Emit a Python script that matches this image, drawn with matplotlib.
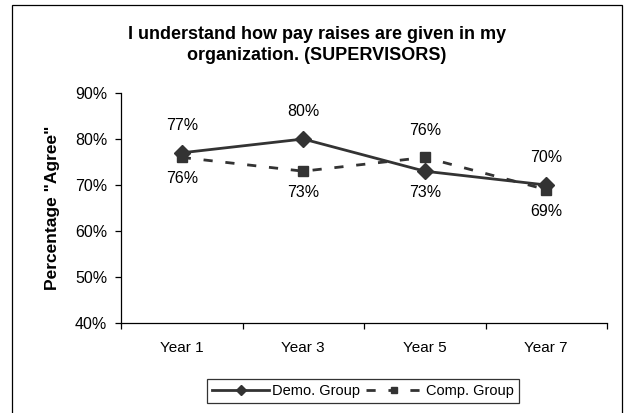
import matplotlib
matplotlib.use("Agg")
import matplotlib.pyplot as plt
from matplotlib.patches import Rectangle

plt.rcParams['font.family'] = ['Liberation Sans', 'DejaVu Sans']

years = ["Year 1", "Year 3", "Year 5", "Year 7"]
demo_group = [0.77, 0.80, 0.73, 0.70]
comp_group = [0.76, 0.73, 0.76, 0.69]
title = "I understand how pay raises are given in my\norganization. (SUPERVISORS)"
y_ticks = [0.4, 0.5, 0.6, 0.7, 0.8, 0.9]

W, H = 630, 413
fig = plt.figure(figsize=(W / 100, H / 100), dpi=100)
fig.patch.set_facecolor("white")

# outer chart frame
fig.patches.append(Rectangle((12 / W, -0.05), (622 - 12) / W, 1.05 - 5 / H,
                             transform=fig.transFigure, fill=False,
                             edgecolor="black", linewidth=0.9))

ax = fig.add_axes([121 / W, 1 - 323 / H, (607 - 121) / W, (323 - 93) / H])
x = [i + 0.5 for i in range(len(years))]
line_color = "#333333"

ax.plot(x, demo_group, color=line_color, lw=2.0, marker="D", markersize=8.5,
        label="Demo. Group")
ax.plot(x, comp_group, color=line_color, lw=2.0, linestyle=(0, (3.3, 4.6)),
        marker="s", markersize=7.5, label="Comp. Group")

# value labels: the higher series above, the lower one below
for xi, d, c in zip(x, demo_group, comp_group):
    for v, other in ((d, c), (c, d)):
        dy = 19.5 if v >= other else -15.5
        ax.annotate(f"{round(v * 100):.0f}%", (xi, v), xytext=(0, dy),
                    textcoords="offset points", ha="center", va="center",
                    fontsize=11.5)

ax.set_xlim(0, len(years))
ax.set_ylim(0.4, 0.9)
ax.set_yticks(y_ticks)
ax.set_yticklabels([f"{round(t * 100)}%" for t in y_ticks], fontsize=11.5)
ax.set_xticks(range(len(years) + 1))
ax.set_xticklabels([])
ax.set_xticks(x, minor=True)
ax.set_xticklabels(years, minor=True, fontsize=11)
ax.tick_params(axis="x", which="major", direction="out", length=4, width=0.9)
ax.tick_params(axis="x", which="minor", length=0, pad=13)
ax.tick_params(axis="y", direction="out", length=4, width=0.9, pad=6)
for s in ("top", "right"):
    ax.spines[s].set_visible(False)
for s in ("left", "bottom"):
    ax.spines[s].set_linewidth(0.9)

fig.text(53 / W, 1 - 208 / H, 'Percentage "Agree"', rotation=90, ha="center",
         va="center", fontsize=12.5, fontweight="bold")

fig.text(317 / W, 1 - 45 / H, title, ha="center", va="center", fontsize=13,
         fontweight="bold", linespacing=1.38)

leg = fig.legend(loc="center", bbox_to_anchor=((205 + 521) / 2 / W, 1 - 391 / H),
                 ncol=2, fontsize=10.5, frameon=True, fancybox=False,
                 handlelength=3.9, handletextpad=0.2, columnspacing=0.4,
                 borderpad=0.35, borderaxespad=0, markerscale=0.6)
leg.get_frame().set_edgecolor("black")
leg.get_frame().set_linewidth(0.9)

fig.savefig("out.png", dpi=100, facecolor="white")
